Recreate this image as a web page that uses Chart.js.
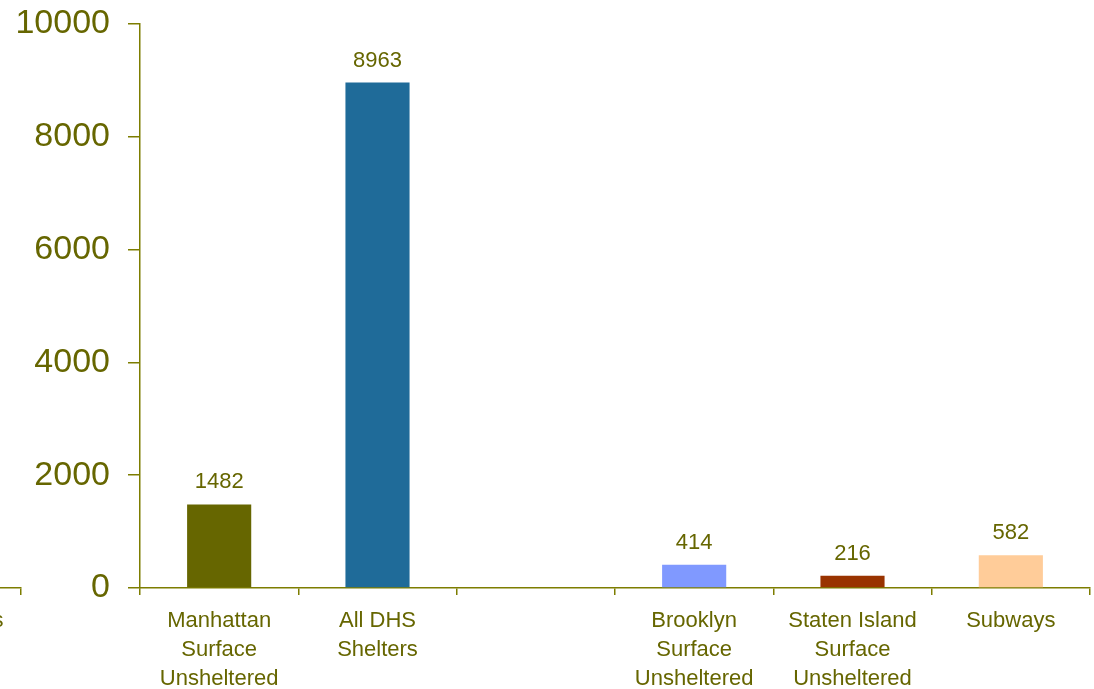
<!DOCTYPE html>
<html>
<head>
<meta charset="utf-8">
<script src="https://cdn.jsdelivr.net/npm/chart.js@4"></script>
<style>
  html, body { margin: 0; padding: 0; background: #fff; overflow: hidden; }
  #wrap { position: relative; width: 1094px; height: 689px; }
  #mainChart { position: absolute; left: 0; top: 0; }
  #edgeChart { position: absolute; left: -99px; top: 0; }
</style>
</head>
<body>
<div id="wrap">
  <canvas id="mainChart" width="1094" height="689"></canvas>
  <canvas id="edgeChart" width="124" height="689"></canvas>
</div>
<script>
// data
const categories = [
  ["Manhattan", "Surface", "Unsheltered"],
  ["All DHS", "Shelters"],
  "",
  ["Brooklyn", "Surface", "Unsheltered"],
  ["Staten Island", "Surface", "Unsheltered"],
  "Subways"
];
const counts = [1482, 8963, null, 414, 216, 582];
const barColors = ["#666600", "#1f6b99", "#ffffff", "#8099ff", "#993300", "#ffcc99"];
const yTicks = [0, 2000, 4000, 6000, 8000, 10000];

// cut-off neighbour chart on the left edge
const edgeCategories = ["Queens"];

const olive = "#666600";
const axisColor = "#7d7d00";
const font = "'Liberation Sans', Arial, sans-serif";

// value labels above bars
const valueLabels = {
  id: "valueLabels",
  afterDatasetsDraw(chart) {
    const ctx = chart.ctx;
    const meta = chart.getDatasetMeta(0);
    ctx.save();
    ctx.font = "22px " + font;
    ctx.fillStyle = olive;
    ctx.textAlign = "center";
    ctx.textBaseline = "middle";
    meta.data.forEach((bar, i) => {
      const v = chart.data.datasets[0].data[i];
      if (v == null) return;
      ctx.fillText(String(v), bar.x, bar.y - 22);
    });
    ctx.restore();
  }
};

const xScale = {
  grid: { display: true, drawOnChartArea: false, drawTicks: true, tickLength: 7, color: axisColor, lineWidth: 1.5 },
  border: { display: true, color: axisColor, width: 1.5 },
  ticks: { color: olive, font: { family: font, size: 22, lineHeight: 1.3 }, padding: 12, maxRotation: 0, autoSkip: false },
  afterFit(scale) { scale.height = 101; }
};

new Chart(document.getElementById("mainChart"), {
  type: "bar",
  data: {
    labels: categories,
    datasets: [{
      data: counts,
      backgroundColor: barColors,
      categoryPercentage: 1,
      barPercentage: 0.405
    }]
  },
  options: {
    responsive: false,
    animation: false,
    layout: { padding: { top: 24, right: 4, left: 0, bottom: 0 } },
    plugins: { legend: { display: false }, tooltip: { enabled: false } },
    scales: {
      x: xScale,
      y: {
        min: 0,
        max: 10000,
        afterBuildTicks(scale) { scale.ticks = yTicks.map(v => ({ value: v })); },
        grid: { display: true, drawOnChartArea: false, drawTicks: true, tickLength: 12, color: axisColor, lineWidth: 1.5 },
        border: { display: true, color: axisColor, width: 1.5 },
        ticks: { color: olive, font: { family: font, size: 34 }, padding: 18, callback: v => String(v) },
        afterFit(scale) {
          scale.width = 140;
          scale.paddingTop = 0;
          scale.paddingBottom = 0;
        }
      }
    }
  },
  plugins: [valueLabels]
});

new Chart(document.getElementById("edgeChart"), {
  type: "bar",
  data: {
    labels: edgeCategories,
    datasets: [{ data: [null] }]
  },
  options: {
    responsive: false,
    animation: false,
    layout: { padding: { top: 24, right: 4, left: 8, bottom: 0 } },
    plugins: { legend: { display: false }, tooltip: { enabled: false } },
    scales: {
      x: xScale,
      y: { display: false, min: 0, max: 10000 }
    }
  }
});
</script>
</body>
</html>
